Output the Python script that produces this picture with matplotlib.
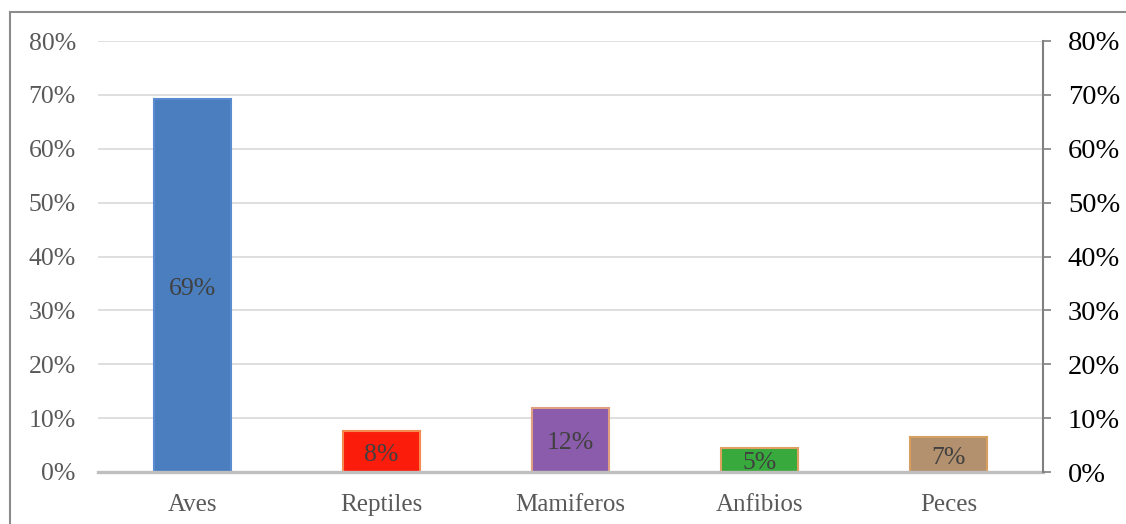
import matplotlib
matplotlib.use("Agg")
import matplotlib.pyplot as plt
from matplotlib.lines import Line2D

categories = ["Aves", "Reptiles", "Mamiferos", "Anfibios", "Peces"]
values = [0.692, 0.076, 0.119, 0.045, 0.065]
bar_labels = ["69%", "8%", "12%", "5%", "7%"]
face_colors = ["#4a7ebf", "#fb1c0c", "#8a5cab", "#38a93c", "#b3906e"]
edge_colors = ["#5a8ad0", "#f58a50", "#e0a080", "#e0a060", "#d8a060"]
ticks = [0, 0.1, 0.2, 0.3, 0.4, 0.5, 0.6, 0.7, 0.8]
tick_labels = ["0%", "10%", "20%", "30%", "40%", "50%", "60%", "70%", "80%"]

plt.rcParams["font.family"] = ["Liberation Serif", "DejaVu Serif"]

fig = plt.figure(figsize=(11.26, 5.24), dpi=100)
ax = fig.add_axes([98 / 1126, 1 - 472 / 524, (1043 - 98) / 1126, (472 - 41) / 524])

x = list(range(len(categories)))
ax.bar(x, values, width=0.41, color=face_colors, edgecolor=edge_colors, linewidth=1.5, zorder=3)
for xi, v, lab in zip(x, values, bar_labels):
    ax.text(xi, v / 2 - 0.006, lab, ha="center", va="center", fontsize=18.5, color="#404040", zorder=4)

ax.set_xlim(-0.5, 4.5)
ax.set_ylim(0, 0.8)
ax.set_yticks(ticks)
ax.set_yticklabels(tick_labels, fontsize=18.5, color="#595959")
ax.set_xticks(x)
ax.set_xticklabels(categories, fontsize=18, color="#595959")
ax.tick_params(axis="y", length=0, pad=16)
ax.tick_params(axis="x", length=0, pad=16)
ax.grid(axis="y", color="#d9d9d9", linewidth=1.2, zorder=0)
for s in ["top", "left", "right"]:
    ax.spines[s].set_visible(False)
ax.spines["bottom"].set_color("#bfbfbf")
ax.spines["bottom"].set_linewidth(2.4)
ax.spines["bottom"].set_zorder(5)

ax2 = ax.twinx()
ax2.set_ylim(0, 0.8)
ax2.set_yticks(ticks)
ax2.set_yticklabels(tick_labels, fontsize=20.5, color="black")
ax2.tick_params(axis="y", length=6, width=1.2, color="#808080", pad=12)
for s in ["top", "left", "bottom"]:
    ax2.spines[s].set_visible(False)
ax2.spines["right"].set_color("#808080")
ax2.spines["right"].set_linewidth(1.5)

# outer chart frame
fig.add_artist(Line2D([10 / 1126, 10 / 1126], [0, 1 - 12 / 524], color="#8c8c8c", linewidth=1.5))
fig.add_artist(Line2D([10 / 1126, 1], [1 - 12 / 524, 1 - 12 / 524], color="#8c8c8c", linewidth=1.5))

fig.savefig("out.png", dpi=100)
